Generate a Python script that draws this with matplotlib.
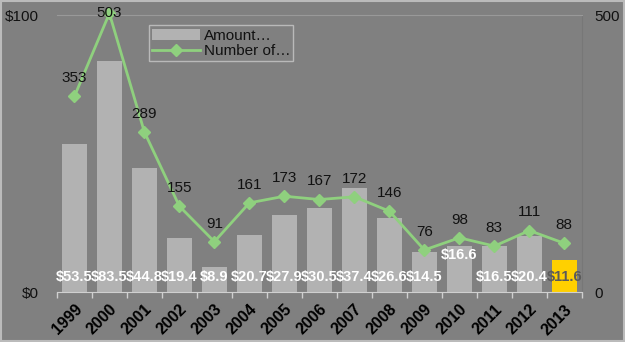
import numpy as np
import matplotlib.pyplot as plt
from matplotlib.patches import Rectangle

plt.rcParams['font.family'] = ['Liberation Sans', 'DejaVu Sans']

# data
years = ['1999', '2000', '2001', '2002', '2003', '2004', '2005', '2006',
         '2007', '2008', '2009', '2010', '2011', '2012', '2013']
amount = [53.5, 83.5, 44.8, 19.4, 8.9, 20.7, 27.9, 30.5,
          37.4, 26.6, 14.5, 16.6, 16.5, 20.4, 11.6]
number = [353, 503, 289, 155, 91, 161, 173, 167,
          172, 146, 76, 98, 83, 111, 88]

BG = '#808080'
BAR = '#b2b2b2'
GOLD = '#ffd000'
GREEN = '#8fd07e'

fig = plt.figure(figsize=(6.25, 3.42), dpi=100, facecolor=BG)
ax = fig.add_axes([0.091, 0.146, 0.84, 0.81])
ax.set_facecolor(BG)
x = np.arange(len(years))

colors = [BAR] * (len(years) - 1) + [GOLD]
bars = ax.bar(x, amount, width=0.72, color=colors, label='Amount…', zorder=2)
ax.set_ylim(0, 100)
ax.set_xlim(-0.5, len(years) - 0.5)

# bar value labels near the base
for i, v in enumerate(amount):
    ypos = 5.5
    col = 'white'
    if years[i] == '2010':
        ypos = 13.5
    if years[i] == '2013':
        col = '#5a5a5a'
    ax.text(i, ypos, f'${v}', ha='center', va='center', color=col,
            fontsize=10.5, fontweight='bold', zorder=5)

ax2 = ax.twinx()
ax2.set_ylim(0, 500)
ax2.plot(x, number, color=GREEN, lw=2, marker='D', markersize=6,
         label='Number of…', clip_on=False, zorder=3)
for i, v in enumerate(number):
    off = 0 if v > 500 else 8
    ax2.annotate(str(v), (i, v), xytext=(0, off), textcoords='offset points',
                 ha='center', va='bottom' if off else 'center',
                 fontsize=11, color='#111111', annotation_clip=False)

# axes styling
ax.set_yticks([0, 100])
ax.set_yticklabels(['$0', '$100'], fontsize=11, color='#111111')
ax2.set_yticks([0, 500])
ax2.set_yticklabels(['0', '500'], fontsize=11, color='#111111')
ax.tick_params(axis='y', length=0, pad=13)
ax2.tick_params(axis='y', length=0, pad=9)

ax.set_xticks(x)
ax.set_xticklabels(years, rotation=45, ha='right', rotation_mode='anchor',
                   fontsize=11.5, fontweight='bold', color='black')
ax.set_xticks(np.arange(-0.5, len(years)), minor=True)
ax.tick_params(axis='x', which='major', length=0, pad=7)
ax.tick_params(axis='x', which='minor', length=4, color='#d0d0d0', width=1)

for a in (ax, ax2):
    for s in a.spines.values():
        s.set_visible(False)
ax.spines['bottom'].set_visible(True)
ax.spines['bottom'].set_color('#d0d0d0')
ax.spines['top'].set_visible(True)
ax.spines['top'].set_color('#999999')
ax.spines['right'].set_visible(True)
ax.spines['right'].set_color('#777777')

h1, l1 = ax.get_legend_handles_labels()
h2, l2 = ax2.get_legend_handles_labels()
leg = ax2.legend(h1 + h2, l1 + l2, loc='upper left',
                 bbox_to_anchor=(0.16, 0.99), frameon=True, fancybox=False,
                 fontsize=11, handlelength=3.2, borderpad=0.2,
                 labelspacing=0.1, handletextpad=0.2)
leg.get_frame().set_facecolor(BG)
leg.get_frame().set_edgecolor('#c8c8c8')
leg.get_frame().set_linewidth(1)
for t in leg.get_texts():
    t.set_color('#111111')

# outer frame
fig.patches.append(Rectangle((0.002, 0.003), 0.996, 0.994, transform=fig.transFigure,
                             fill=False, edgecolor='#bbbbbb', lw=1.5))

fig.savefig('out.png', dpi=100, facecolor=BG)
